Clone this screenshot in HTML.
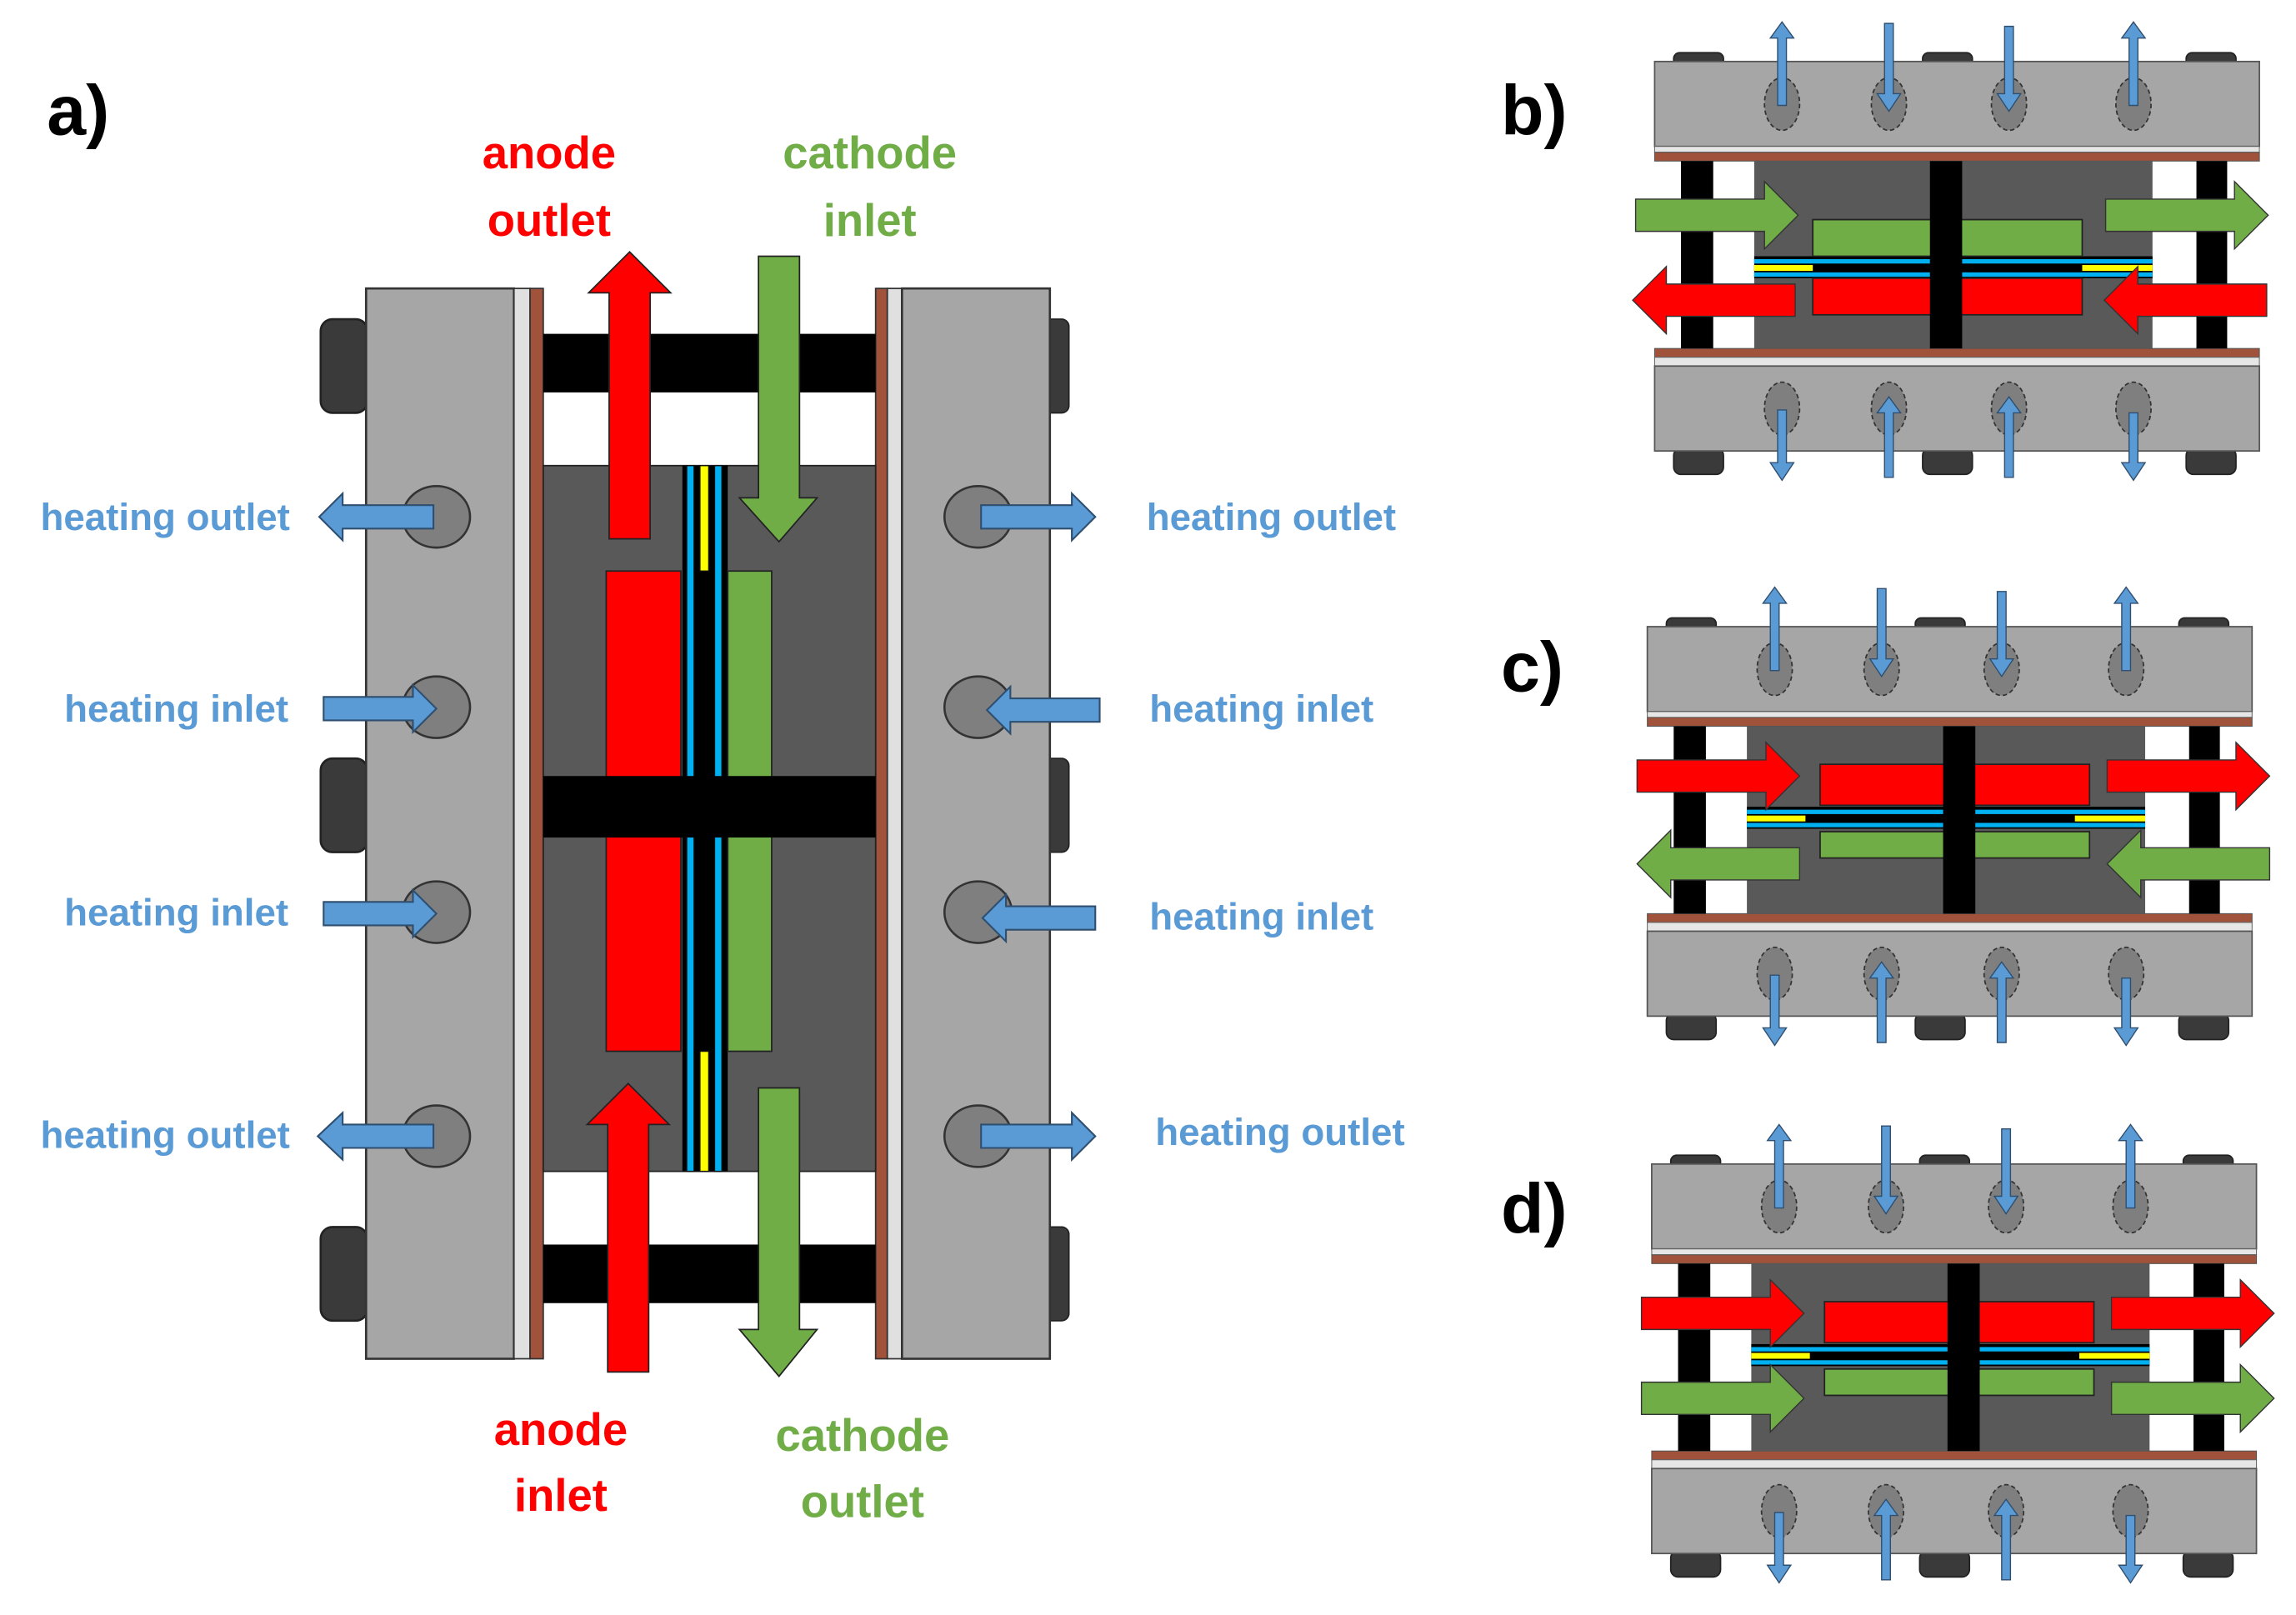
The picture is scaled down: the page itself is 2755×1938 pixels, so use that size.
<!DOCTYPE html>
<html><head><meta charset="utf-8"><style>
html,body{margin:0;padding:0;background:#fff;}
svg{display:block;}
text{font-family:"Liberation Sans",sans-serif;font-weight:bold;}
</style></head><body>
<svg width="2755" height="1938" viewBox="0 0 1568 1103" xmlns="http://www.w3.org/2000/svg">
<defs>
<g id="bolt"><rect x="0" y="0" width="32" height="64" rx="8" fill="#3a3a3a" stroke="#222" stroke-width="1.5"/></g>
</defs>
<rect width="1568" height="1103" fill="#fff"/>
<!-- panel a -->
<text x="32" y="92" font-size="48" fill="#000">a)</text>
<use href="#bolt" x="219" y="218"/><use href="#bolt" x="219" y="518"/><use href="#bolt" x="219" y="838"/>
<rect x="712" y="218" width="18" height="64" rx="5" fill="#3a3a3a" stroke="#222"/>
<rect x="712" y="518" width="18" height="64" rx="5" fill="#3a3a3a" stroke="#222"/>
<rect x="712" y="838" width="18" height="64" rx="5" fill="#3a3a3a" stroke="#222"/>
<rect x="250" y="197" width="101" height="731" fill="#a6a6a6" stroke="#333" stroke-width="1.5"/>
<rect x="351" y="197" width="11" height="731" fill="#e0e0e0" stroke="#333" stroke-width="1"/>
<rect x="362" y="197" width="9" height="731" fill="#a0523a" stroke="#333" stroke-width="1"/>
<rect x="598" y="197" width="8" height="731" fill="#a0523a" stroke="#333" stroke-width="1"/>
<rect x="606" y="197" width="10" height="731" fill="#e0e0e0" stroke="#333" stroke-width="1"/>
<rect x="616" y="197" width="101" height="731" fill="#a6a6a6" stroke="#333" stroke-width="1.5"/>
<rect x="371" y="228" width="227" height="40" fill="#000"/>
<rect x="371" y="850" width="227" height="40" fill="#000"/>
<rect x="371" y="318" width="227" height="482" fill="#595959" stroke="#222"/>
<rect x="466" y="318" width="31" height="482" fill="#000"/>
<rect x="469" y="318" width="5" height="482" fill="#00b0f0" stroke="#111" stroke-width="0.8"/>
<rect x="488" y="318" width="5" height="482" fill="#00b0f0" stroke="#111" stroke-width="0.8"/>
<rect x="478" y="318" width="6" height="72" fill="#ffff00" stroke="#111" stroke-width="0.8"/>
<rect x="478" y="718" width="6" height="82" fill="#ffff00" stroke="#111" stroke-width="0.8"/>
<rect x="414" y="390" width="51" height="328" fill="#ff0000" stroke="#222"/>
<rect x="497" y="390" width="30" height="328" fill="#70ad47" stroke="#222"/>
<rect x="371" y="530" width="227" height="42" fill="#000"/>
<polygon points="416,368 444,368 444,200 458,200 430,172 402,200 416,200" fill="#ff0000" stroke="#222"/>
<polygon points="518,175 546,175 546,340 558,340 532,370 505,340 518,340" fill="#70ad47" stroke="#222"/>
<polygon points="415,937 443,937 443,768 457,768 429,740 401,768 415,768" fill="#ff0000" stroke="#222"/>
<polygon points="518,743 546,743 546,908 558,908 532,940 505,908 518,908" fill="#70ad47" stroke="#222"/>
<g font-size="31" text-anchor="middle">
<text x="375" y="115" fill="#ff0000">anode</text><text x="375" y="161" fill="#ff0000">outlet</text>
<text x="594" y="115" fill="#70ad47">cathode</text><text x="594" y="161" fill="#70ad47">inlet</text>
<text x="383" y="987" fill="#ff0000">anode</text><text x="383" y="1032" fill="#ff0000">inlet</text>
<text x="589" y="991" fill="#70ad47">cathode</text><text x="589" y="1036" fill="#70ad47">outlet</text>
</g>
<g fill="#7f7f7f" stroke="#333" stroke-width="1.5">
<ellipse cx="298" cy="353" rx="23" ry="21"/><ellipse cx="298" cy="483" rx="23" ry="21"/>
<ellipse cx="298" cy="623" rx="23" ry="21"/><ellipse cx="298" cy="776" rx="23" ry="21"/>
<ellipse cx="668" cy="353" rx="23" ry="21"/><ellipse cx="668" cy="483" rx="23" ry="21"/>
<ellipse cx="668" cy="623" rx="23" ry="21"/><ellipse cx="668" cy="776" rx="23" ry="21"/>
</g>
<g fill="#5b9bd5" stroke="#2f4f70" stroke-width="1.2">
<polygon points="296,345 234,345 234,337 218,353 234,369 234,361 296,361"/>
<polygon points="296,768 234,768 234,760 217,776 234,792 234,784 296,784"/>
<polygon points="221,476 282,476 282,468 298,484 282,500 282,492 221,492"/>
<polygon points="221,616 282,616 282,608 298,624 282,640 282,632 221,632"/>
<polygon points="670,345 732,345 732,337 748,353 732,369 732,361 670,361"/>
<polygon points="670,768 732,768 732,760 748,776 732,792 732,784 670,784"/>
<polygon points="751,477 690,477 690,469 674,485 690,501 690,493 751,493"/>
<polygon points="748,619 687,619 687,611 671,627 687,643 687,635 748,635"/>
</g>
<g font-size="26" fill="#5b9bd5">
<text x="198" y="362" text-anchor="end">heating outlet</text>
<text x="197" y="493" text-anchor="end">heating inlet</text>
<text x="197" y="632" text-anchor="end">heating inlet</text>
<text x="198" y="784" text-anchor="end">heating outlet</text>
<text x="783" y="362">heating outlet</text>
<text x="785" y="493">heating inlet</text>
<text x="785" y="635">heating inlet</text>
<text x="789" y="782">heating outlet</text>
</g>

<defs>
<g id="frame">
<g fill="#3a3a3a" stroke="#222">
<rect x="13" y="-6" width="34" height="10" rx="4"/><rect x="183" y="-6" width="34" height="10" rx="4"/><rect x="363" y="-6" width="34" height="10" rx="4"/>
<rect x="13" y="264" width="34" height="18" rx="5"/><rect x="183" y="264" width="34" height="18" rx="5"/><rect x="363" y="264" width="34" height="18" rx="5"/>
</g>
<rect x="0" y="0" width="413" height="58" fill="#a6a6a6" stroke="#555"/>
<rect x="0" y="58" width="413" height="4" fill="#e6e6e6" stroke="#666" stroke-width="0.6"/>
<rect x="0" y="62" width="413" height="6" fill="#a0523a" stroke="#555" stroke-width="0.6"/>
<rect x="0" y="196" width="413" height="6" fill="#a0523a" stroke="#555" stroke-width="0.6"/>
<rect x="0" y="202" width="413" height="6" fill="#e6e6e6" stroke="#666" stroke-width="0.6"/>
<rect x="0" y="208" width="413" height="58" fill="#a6a6a6" stroke="#555"/>
<rect x="18" y="68" width="22" height="128" fill="#000"/>
<rect x="370" y="68" width="21" height="128" fill="#000"/>
<rect x="68" y="68" width="272" height="128" fill="#595959"/>
<g fill="#7f7f7f" stroke="#333" stroke-dasharray="3,2">
<ellipse cx="87" cy="29" rx="12" ry="18"/><ellipse cx="160" cy="29" rx="12" ry="18"/><ellipse cx="242" cy="29" rx="12" ry="18"/><ellipse cx="327" cy="29" rx="12" ry="18"/>
<ellipse cx="87" cy="237" rx="12" ry="18"/><ellipse cx="160" cy="237" rx="12" ry="18"/><ellipse cx="242" cy="237" rx="12" ry="18"/><ellipse cx="327" cy="237" rx="12" ry="18"/>
</g>
<g fill="#5b9bd5" stroke="#2f4f70" stroke-width="0.8">
<polygon points="84,30 90,30 90,-16 95,-16 87,-27 79,-16 84,-16"/>
<polygon points="324,30 330,30 330,-16 335,-16 327,-27 319,-16 324,-16"/>
<polygon points="157,-26 163,-26 163,22 168,22 160,34 152,22 157,22"/>
<polygon points="239,-24 245,-24 245,22 250,22 242,34 234,22 239,22"/>
<polygon points="84,238 90,238 90,274 95,274 87,286 79,274 84,274"/>
<polygon points="324,240 330,240 330,274 335,274 327,286 319,274 324,274"/>
<polygon points="157,284 163,284 163,240 168,240 160,229 152,240 157,240"/>
<polygon points="239,284 245,284 245,240 250,240 242,229 234,240 239,240"/>
</g>
</g>
<g id="mem">
<rect x="68" y="0" width="272" height="15" fill="#000"/>
<rect x="68" y="2" width="272" height="3" fill="#00b0f0"/>
<rect x="68" y="11" width="272" height="3" fill="#00b0f0"/>
<rect x="68" y="6" width="40" height="4" fill="#ffff00"/>
<rect x="292" y="6" width="48" height="4" fill="#ffff00"/>
</g>
<polygon id="rarrow" points="0,-11 88,-11 88,-23 111,0 88,23 88,11 0,11" stroke="#333" stroke-width="0.8"/>
<polygon id="larrow" points="111,-11 23,-11 23,-23 0,0 23,23 23,11 111,11" stroke="#333" stroke-width="0.8"/>
</defs>

<!-- b -->
<text x="1025" y="92" font-size="48" fill="#000">b)</text>
<g transform="translate(1130,42)">
<use href="#frame"/>
<use href="#mem" y="133"/>
<rect x="108" y="108" width="184" height="25" fill="#70ad47" stroke="#222"/>
<rect x="108" y="148" width="184" height="25" fill="#ff0000" stroke="#222"/>
<rect x="188" y="68" width="22" height="128" fill="#000"/>
<use href="#rarrow" x="-13" y="105" fill="#70ad47"/>
<use href="#rarrow" x="308" y="105" fill="#70ad47"/>
<use href="#larrow" x="-15" y="163" fill="#ff0000"/>
<use href="#larrow" x="307" y="163" fill="#ff0000"/>
</g>

<!-- c -->
<text x="1025" y="472" font-size="48" fill="#000">c)</text>
<g transform="translate(1125,428)">
<use href="#frame"/>
<use href="#mem" y="123"/>
<rect x="118" y="94" width="184" height="28" fill="#ff0000" stroke="#222"/>
<rect x="118" y="140" width="184" height="18" fill="#70ad47" stroke="#222"/>
<rect x="202" y="68" width="22" height="128" fill="#000"/>
<use href="#rarrow" x="-7" y="102" fill="#ff0000"/>
<use href="#rarrow" x="314" y="102" fill="#ff0000"/>
<use href="#larrow" x="-7" y="162" fill="#70ad47"/>
<use href="#larrow" x="314" y="162" fill="#70ad47"/>
</g>

<!-- d -->
<text x="1025" y="842" font-size="48" fill="#000">d)</text>
<g transform="translate(1128,795)">
<use href="#frame"/>
<use href="#mem" y="123"/>
<rect x="118" y="94" width="184" height="28" fill="#ff0000" stroke="#222"/>
<rect x="118" y="140" width="184" height="18" fill="#70ad47" stroke="#222"/>
<rect x="202" y="68" width="22" height="128" fill="#000"/>
<use href="#rarrow" x="-7" y="102" fill="#ff0000"/>
<use href="#rarrow" x="314" y="102" fill="#ff0000"/>
<use href="#rarrow" x="-7" y="160" fill="#70ad47"/>
<use href="#rarrow" x="314" y="160" fill="#70ad47"/>
</g>
</svg>
</body></html>
